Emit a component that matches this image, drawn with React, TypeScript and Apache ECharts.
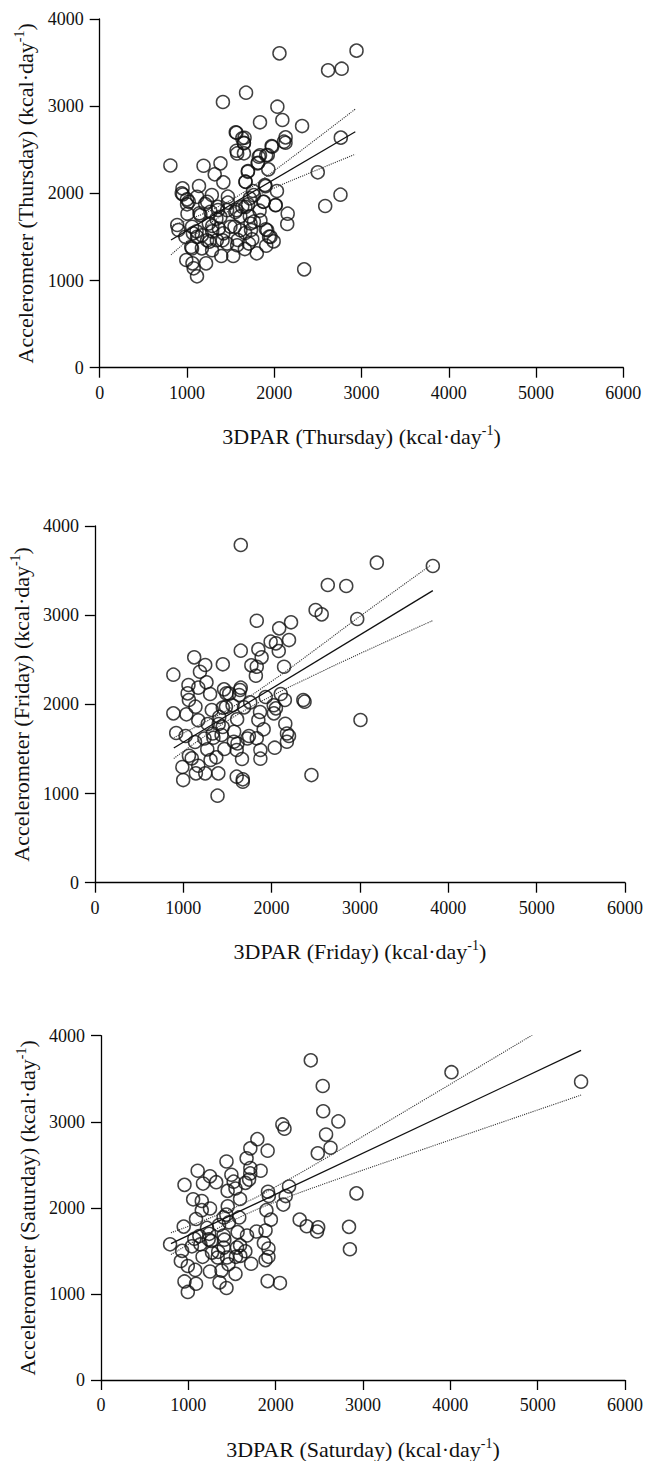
import React, { useEffect, useRef } from "react";
import * as echarts from "echarts";

// ---------------- DATA ----------------
const xMin = 0, xMax = 6000, xStep = 1000;
const yMin = 0, yMax = 4000, yStep = 1000;

const days = ["Thursday", "Friday", "Saturday"];

const thuPoints: number[][] = [
  [810,2320],[2060,3606],[2943,3637],[2617,3411],[2773,3430],[1412,3048],[1677,3155],[2036,2994],[2093,2841],[1837,2815],
  [2319,2772],[2763,2639],[2130,2642],[2111,2593],[1559,2700],[1634,2631],[1653,2574],[1568,2489],[1653,2459],[1970,2543],
  [1837,2436],[1908,2436],[1809,2344],[1932,2275],[1700,2256],[1190,2317],[1384,2344],[1318,2218],[1417,2126],[2499,2241],
  [1894,2096],[2031,2027],[1672,2134],[2759,1985],[2584,1855],[2154,1767],[2149,1648],[2017,1866],[1880,1904],[1757,2027],
  [2343,1128],
  [949,2057],[940,2000],[1138,2084],[1001,1931],[1001,1874],[1006,1767],[888,1637],[902,1579],[992,1235],[1063,1197],
  [1077,1140],[1115,1048],[1219,1197],[1530,1281],[1393,1281],[1800,1312],[1663,1361],[1285,1981],[1143,1771],[1110,1564],
  [1068,1541],[1049,1384],[1171,1518],[1289,1564],[1290,1625],[1209,1878],[1356,1809],[1469,1893],[1469,1962],[1554,1786],
  [1611,1736],[1545,1618],[1720,1736],[1767,1675],[1734,1579],[1904,1587],[1941,1503],[1993,1449],[1908,1400],[1748,1472],
  [1667,1545],[1582,1465],[1408,1461],[1417,1541],[1256,1446],[1171,1369],[1700,1874],[1832,1801],[1634,1847],[1337,1709],
  [1720,1943],
  [952,1987],[1020,1903],[1058,1367],[1957,1501],[1353,1845],[1567,1807],[1670,1845],[1766,1979],[1873,1903],[2015,1864],
  [1900,2083],[1697,2247],[1816,2351],[1926,2439],[1823,2420],[1670,2132],[1575,2458],[1652,2580],[1567,2695],[1660,2638],
  [2129,2580],[1976,2534],[1116,1960],[1231,1903],[1154,1750],[1269,1788],[1383,1730],[1460,1807],[1250,1654],[1365,1596],
  [1498,1616],[1613,1577],[1728,1654],[1842,1692],[1919,1577],[1116,1501],[1231,1462],[1342,1462],[1460,1424],[1575,1405],
  [1709,1424],[1288,1347],[1058,1616],[982,1501]
];
const thuFit: number[][] = [[817,1465],[2929,2707]];
const thuUpper: number[][] = [[817,1630],[1100,1730],[1400,1869],[1700,2045],[2000,2260],[2400,2561],[2929,2967]];
const thuLower: number[][] = [[817,1295],[1100,1532],[1400,1747],[1700,1923],[2000,2062],[2400,2231],[2929,2449]];

const friPoints: number[][] = [
  [1651,3787],[3191,3589],[3825,3551],[2636,3338],[2845,3327],[2498,3058],[2567,3009],[2969,2957],[1832,2938],[2220,2920],
  [2086,2852],[2197,2721],[1989,2703],[2049,2684],[2081,2598],[1651,2602],[1850,2617],[1887,2527],[1124,2527],[1448,2449],
  [1249,2441],[1189,2366],[1771,2437],[1832,2422],[2141,2422],[1822,2321],[888,2333],[1059,2217],[1263,2247],[1170,2187],
  [1050,2123],[1304,2116],[1462,2168],[1489,2123],[1642,2161],[1651,2187],[1633,2105],[1064,2049],[1138,1974],[1323,1936],
  [1448,1963],[1688,1966],[1758,2022],[1933,2082],[2104,2116],[2150,2049],[2049,1955],[2026,1899],[2359,2049],[2373,2030],
  [1869,1914],[1036,1888],[888,1899],[1170,1821],[1610,1832],[1850,1824],[1401,1779],[1277,1779],[2155,1783],[3006,1824],
  [920,1679],[1027,1645],[1133,1578],[1341,1626],[1434,1656],[1573,1581],[1744,1645],[1832,1619],[1910,1720],[2197,1645],
  [2173,1581],[2035,1514],[1873,1488],[1605,1488],[1272,1495],[1466,1499],[1064,1424],[1096,1394],[1170,1312],[1374,1406],
  [1309,1376],[1665,1387],[1873,1391],[990,1297],[1143,1226],[1249,1226],[1397,1226],[999,1151],[1605,1189],[1674,1159],
  [1674,1133],[2451,1207],[1388,976],
  [1520,2120],[1408,1859],[1483,1971],[1558,1990],[2024,1990],[2174,1673],[1614,1561],[1576,1692],[1446,1747],[1334,1673],
  [1240,1617],[1726,1617]
];
const friFit: number[][] = [[893,1510],[3825,3275]];
const friUpper: number[][] = [[893,1627],[1200,1777],[1600,1996],[2000,2258],[2500,2618],[3000,2987],[3800,3560]];
const friLower: number[][] = [[893,1393],[1200,1613],[1600,1876],[2000,2094],[2500,2336],[3000,2569],[3825,2940]];

const satPoints: number[][] = [
  [2402,3714],[4013,3576],[5497,3466],[2539,3416],[2544,3122],[2718,3004],[2077,2969],[2101,2920],[2577,2851],[2628,2698],
  [2482,2634],[1790,2798],[1710,2691],[1908,2664],[1667,2576],[1437,2538],[1710,2462],[1828,2431],[1107,2431],[1248,2366],
  [1493,2385],[1168,2282],[1319,2298],[956,2267],[1540,2225],[1653,2290],[1696,2328],[2153,2248],[1912,2187],[2925,2168],
  [1922,2137],[2115,2137],[1592,2103],[1055,2099],[1154,2080],[1248,1992],[1154,1973],[1451,2019],[1894,1973],[2087,2038],
  [1088,1870],[1404,1889],[1583,1889],[1465,1832],[1352,1801],[947,1782],[2275,1863],[2355,1786],[2487,1775],[2473,1725],
  [2840,1779],[2850,1519],[1564,1718],[1672,1679],[1884,1737],[1781,1725],[1404,1679],[1239,1698],[1126,1672],[1069,1641],
  [791,1576],[1041,1553],[1262,1615],[1413,1630],[1592,1565],[1865,1592],[1917,1527],[1653,1496],[1342,1489],[1163,1431],
  [1545,1431],[1917,1431],[1884,1393],[914,1382],[994,1324],[1079,1279],[1248,1260],[1380,1271],[1460,1344],[1540,1233],
  [1719,1351],[956,1145],[1088,1118],[994,1023],[1357,1134],[1437,1069],[1908,1149],[2049,1126],
  [1519,2304],[1435,1921],[1945,1863],[1709,2400],[1450,2197],[1214,1767],[1233,1634],[1138,1576],[929,1500],[1557,1538],
  [1405,1538],[1271,1480],[1336,1423],[1443,1423],[1595,1442]
];
const satFit: number[][] = [[801,1584],[5497,3829]];
const satUpper: number[][] = [[801,1711],[1200,1863],[1600,2036],[2000,2245],[2600,2593],[3500,3134],[4500,3741],[5497,4348]];
const satLower: number[][] = [[801,1457],[1200,1687],[1600,1896],[2000,2069],[2600,2295],[3500,2614],[4500,2963],[5497,3310]];

const pointsByDay = [thuPoints, friPoints, satPoints];
const fitByDay = [thuFit, friFit, satFit];
const upperByDay = [thuUpper, friUpper, satUpper];
const lowerByDay = [thuLower, friLower, satLower];

// ---------------- LAYOUT ----------------
const grids = [
  { left: 99.7, top: 19, width: 523.6, height: 348.7 },
  { left: 94.8, top: 526, width: 534.4, height: 356.7 },
  { left: 101, top: 1035.7, width: 524.9, height: 349.3 },
];

const FONT = "'Liberation Serif', 'Times New Roman', serif";
const INK = "#111";

function richName() {
  return {
    color: INK,
    rich: {
      a: { fontFamily: FONT, fontSize: 22, color: INK, lineHeight: 26 },
      s: { fontFamily: FONT, fontSize: 14, color: INK, verticalAlign: "top", lineHeight: 16 },
    },
  };
}

export default function App() {
  const ref = useRef<HTMLDivElement>(null);
  useEffect(() => {
    if (!ref.current) return;
    const chart = echarts.init(ref.current, undefined, { renderer: "svg" });
    const axisLine = { lineStyle: { color: "#000", width: 1.3 } };
    const plain = (v: number) => String(v);
    const option: any = {
      animation: false,
      backgroundColor: "#fff",
      grid: grids.map((g) => ({ ...g, containLabel: false })),
      xAxis: days.map((d, i) => ({
        type: "value",
        gridIndex: i,
        min: xMin,
        max: xMax,
        interval: xStep,
        axisLine: { show: true, ...axisLine },
        axisTick: { show: true, length: 10, lineStyle: { color: "#000", width: 1.3 } },
        axisLabel: { color: INK, fontFamily: FONT, fontSize: 18, margin: 16, formatter: plain },
        splitLine: { show: false },
        name: `{a|3DPAR (${d}) (kcal·day}{s|-1}{a|)}`,
        nameLocation: "middle",
        nameGap: 56,
        nameTextStyle: richName(),
      })),
      yAxis: days.map((d, i) => ({
        type: "value",
        gridIndex: i,
        min: yMin,
        max: yMax,
        interval: yStep,
        axisLine: { show: true, ...axisLine },
        axisTick: { show: true, length: 10, lineStyle: { color: "#000", width: 1.3 } },
        axisLabel: { color: INK, fontFamily: FONT, fontSize: 18, margin: 16, formatter: plain },
        splitLine: { show: false },
        name: `{a|Accelerometer (${d}) (kcal·day}{s|-1}{a|)}`,
        nameLocation: "middle",
        nameGap: 56,
        nameTextStyle: richName(),
      })),
      series: days.flatMap((d, i) => [
        {
          type: "scatter",
          name: `${d} points`,
          xAxisIndex: i,
          yAxisIndex: i,
          data: pointsByDay[i],
          symbol: "circle",
          symbolSize: 13,
          itemStyle: { color: "rgba(0,0,0,0)", borderColor: INK, borderWidth: 1.5 },
          silent: true,
          z: 3,
        },
        {
          type: "line",
          xAxisIndex: i,
          yAxisIndex: i,
          data: fitByDay[i],
          showSymbol: false,
          symbol: "none",
          lineStyle: { color: INK, width: 1.3 },
          silent: true,
          z: 4,
        },
        {
          type: "line",
          xAxisIndex: i,
          yAxisIndex: i,
          data: upperByDay[i],
          smooth: true,
          showSymbol: false,
          symbol: "none",
          lineStyle: { color: "#333", width: 1.1, type: "dotted" },
          silent: true,
          z: 4,
        },
        {
          type: "line",
          xAxisIndex: i,
          yAxisIndex: i,
          data: lowerByDay[i],
          smooth: true,
          showSymbol: false,
          symbol: "none",
          lineStyle: { color: "#333", width: 1.1, type: "dotted" },
          silent: true,
          z: 4,
        },
      ]),
    };
    chart.setOption(option);
    return () => chart.dispose();
  }, []);
  return (
    <div
      ref={ref}
      style={{ position: "absolute", left: 0, top: 0, width: 646, height: 1461, background: "#fff" }}
    />
  );
}
